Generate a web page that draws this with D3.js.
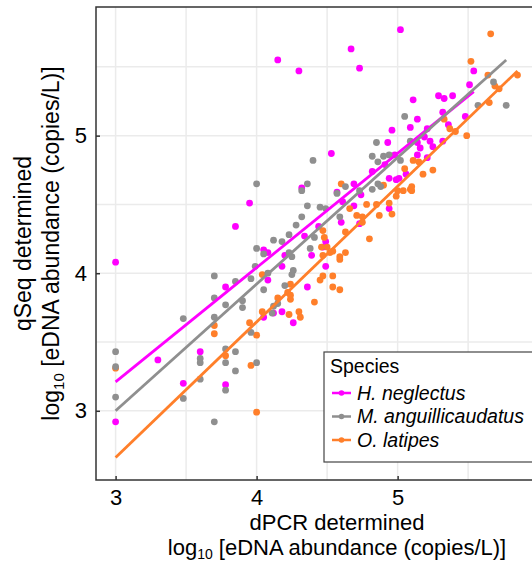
<!DOCTYPE html>
<html>
<head>
<meta charset="utf-8">
<script src="https://cdn.jsdelivr.net/npm/d3@7"></script>
<style>
  body { margin: 0; background: #fff; }
  svg { display: block; font-family: "Liberation Sans", Arial, Helvetica, sans-serif; }
</style>
</head>
<body>
<script>
// species shown in legend, in legend order
const species = ["H. neglectus", "M. anguillicaudatus", "O. latipes"];

// [dPCR log10, qSeq log10]
const hNeglectus = [
  [4.15, 5.55], [4.30, 5.47], [5.02, 5.77], [4.67, 5.63], [4.73, 5.49], [5.54, 5.47],
  [5.51, 5.37], [5.11, 5.26], [5.29, 5.29], [5.33, 5.27], [5.39, 5.29], [5.32, 5.17],
  [5.14, 5.12], [5.48, 5.14], [5.09, 5.06], [5.21, 5.05], [5.36, 5.08], [4.96, 5.04],
  [4.93, 4.95], [5.14, 4.95], [5.19, 4.99], [5.23, 4.96], [5.25, 4.92], [5.32, 4.96],
  [5.16, 4.91], [4.98, 4.86], [4.82, 4.74], [4.91, 4.79], [5.14, 4.86], [5.21, 4.84],
  [5.06, 4.72], [4.94, 4.69], [4.99, 4.68], [5.01, 4.69], [4.53, 4.87], [4.32, 4.62],
  [4.69, 4.65], [4.57, 4.59], [4.74, 4.57], [3.95, 4.51], [3.85, 4.34], [4.61, 4.52],
  [4.69, 4.49], [4.60, 4.37], [4.73, 4.36], [4.94, 4.47], [4.44, 4.34], [4.34, 4.27],
  [4.05, 4.17], [4.08, 4.15], [4.39, 4.13], [4.20, 4.13], [4.49, 4.05], [4.18, 4.05],
  [4.08, 3.95], [3.78, 3.90], [4.36, 3.90], [4.49, 4.23], [4.47, 4.19], [4.18, 3.72],
  [4.05, 3.68], [4.26, 3.64], [4.12, 3.71], [3.00, 4.08], [3.30, 3.37], [3.60, 3.43],
  [3.48, 3.20], [3.78, 3.19], [3.00, 2.92]
];

const mAnguillicaudatus = [
  [5.68, 5.39], [5.57, 5.22], [5.77, 5.22], [5.05, 5.14], [4.85, 4.95], [5.09, 4.96],
  [4.82, 4.85], [4.90, 4.85], [4.94, 4.86], [4.86, 4.81], [5.02, 4.82], [4.86, 4.65],
  [4.88, 4.63], [4.82, 4.61], [4.40, 4.82], [4.00, 4.65], [4.36, 4.65], [4.32, 4.60],
  [4.63, 4.63], [4.57, 4.58], [4.73, 4.60], [4.36, 4.49], [4.45, 4.48], [4.49, 4.47],
  [4.59, 4.41], [4.32, 4.41], [4.28, 4.35], [4.23, 4.28], [4.12, 4.24], [4.18, 4.23],
  [4.41, 4.26], [4.00, 4.18], [4.05, 4.14], [4.23, 4.15], [4.25, 4.12], [4.38, 4.18],
  [3.99, 4.05], [4.26, 4.02], [4.25, 3.99], [4.08, 4.00], [3.85, 3.94], [3.96, 3.96],
  [4.05, 3.88], [4.20, 3.91], [3.70, 3.98], [3.70, 3.82], [3.78, 3.77], [3.90, 3.80],
  [3.90, 3.75], [4.12, 3.76], [4.11, 3.71], [3.70, 3.68], [3.48, 3.67], [4.15, 3.78],
  [3.96, 3.57], [3.00, 3.43], [3.00, 3.32], [3.00, 3.10], [3.60, 3.38], [3.60, 3.35],
  [3.60, 3.23], [3.48, 3.09], [3.78, 3.45], [3.85, 3.43], [3.78, 3.35], [3.85, 3.29],
  [4.00, 3.35], [3.78, 3.15], [3.70, 2.92]
];

const oLatipes = [
  [5.66, 5.74], [5.52, 5.54], [5.64, 5.44], [5.69, 5.36], [5.72, 5.34], [5.85, 5.44],
  [5.65, 5.24], [5.33, 5.12], [5.37, 5.05], [5.41, 5.03], [5.49, 5.00], [5.11, 4.82],
  [5.15, 4.81], [5.05, 4.76], [5.18, 4.72], [5.25, 4.75], [4.90, 4.64], [5.00, 4.60],
  [5.04, 4.60], [5.09, 4.61], [5.10, 4.60], [5.10, 4.63], [4.60, 4.65], [4.66, 4.47],
  [4.71, 4.42], [4.75, 4.41], [4.75, 4.37], [4.87, 4.42], [4.96, 4.43], [4.78, 4.50],
  [4.85, 4.50], [4.94, 4.51], [4.99, 4.56], [4.80, 4.25], [4.47, 4.31], [4.48, 4.26],
  [4.63, 4.30], [4.46, 4.19], [4.50, 4.19], [4.52, 4.15], [4.54, 4.16], [4.63, 4.15],
  [4.47, 4.13], [4.59, 4.12], [4.59, 4.10], [4.04, 3.99], [4.24, 3.92], [4.22, 3.86],
  [4.45, 3.95], [4.47, 3.98], [4.54, 3.98], [4.54, 3.90], [4.59, 3.88], [4.15, 3.82],
  [4.24, 3.81], [4.24, 3.84], [4.41, 3.79], [4.23, 3.70], [4.30, 3.72], [4.31, 3.68],
  [3.95, 3.64], [4.04, 3.72], [4.00, 3.55], [3.70, 3.62], [3.70, 3.56], [3.00, 3.31],
  [3.78, 3.40], [3.96, 3.33], [4.00, 2.99]
];

// regression line end points per species: [x0, y0, x1, y1]
const fitLines = [
  [3.0, 3.21, 5.54, 5.32],
  [3.0, 3.00, 5.77, 5.55],
  [3.0, 2.66, 5.85, 5.47]
];

const xTicks = [3, 4, 5];
const yTicks = [3, 4, 5];
const gridX = [3, 3.5, 4, 4.5, 5, 5.5, 6];
const gridY = [3, 3.5, 4, 4.5, 5, 5.5];

const draw = () => {
  const width = 532;
  const height = 562;
  const colors = ["#ff00ff", "#8f8f8f", "#ff7f2a"];
  const groups = [hNeglectus, mAnguillicaudatus, oLatipes];

  // panel runs past the right edge of the picture (it was cropped)
  const left = 96, right = 576, top = 7, bottom = 480;

  const x = d3.scaleLinear().domain([2.861, 6.265]).range([left, right]);
  const y = d3.scaleLinear().domain([2.497, 5.935]).range([bottom, top]);

  const svg = d3
    .create("svg")
    .attr("width", width)
    .attr("height", height)
    .attr("viewBox", [0, 0, width, height]);

  // grid
  const grid = svg.append("g").attr("stroke", "#ebebeb").attr("stroke-width", 1.5);
  grid.selectAll("line.gx")
    .data(gridX)
    .join("line")
    .attr("x1", (d) => x(d)).attr("x2", (d) => x(d))
    .attr("y1", top).attr("y2", bottom);
  grid.selectAll("line.gy")
    .data(gridY)
    .join("line")
    .attr("class", "gy")
    .attr("x1", left).attr("x2", right)
    .attr("y1", (d) => y(d)).attr("y2", (d) => y(d));

  // points
  const pts = svg.append("g");
  [0, 2, 1].forEach((i) => {
    pts.append("g")
      .attr("fill", colors[i])
      .selectAll("circle")
      .data(groups[i])
      .join("circle")
      .attr("cx", (d) => x(d[0]))
      .attr("cy", (d) => y(d[1]))
      .attr("r", 3.4);
  });

  // regression lines
  svg.append("g")
    .attr("stroke-width", 2.8)
    .selectAll("line")
    .data(fitLines)
    .join("line")
    .attr("stroke", (d, i) => colors[i])
    .attr("x1", (d) => x(d[0]))
    .attr("y1", (d) => y(d[1]))
    .attr("x2", (d) => x(d[2]))
    .attr("y2", (d) => y(d[3]));

  // frame
  svg.append("rect")
    .attr("x", left).attr("y", top)
    .attr("width", right - left).attr("height", bottom - top)
    .attr("fill", "none")
    .attr("stroke", "#333")
    .attr("stroke-width", 1.5);

  // axes: inward ticks, labels outside
  const xAxis = svg.append("g").attr("transform", `translate(0,${bottom})`)
    .call(d3.axisBottom(x).tickValues(xTicks).tickSize(-4).tickPadding(9).tickFormat(d3.format("d")));
  const yAxis = svg.append("g").attr("transform", `translate(${left},0)`)
    .call(d3.axisLeft(y).tickValues(yTicks).tickSize(-4).tickPadding(9).tickFormat(d3.format("d")));
  [xAxis, yAxis].forEach((a) => {
    a.select(".domain").remove();
    a.selectAll(".tick line").attr("stroke", "#333").attr("stroke-width", 1.5);
    a.selectAll(".tick text")
      .attr("font-family", null)
      .attr("font-size", 22)
      .attr("fill", "#000");
  });
  xAxis.selectAll(".tick text").attr("dy", "0.71em");

  // axis titles
  const cx = 337;
  svg.append("text")
    .attr("x", cx).attr("y", 530)
    .attr("text-anchor", "middle")
    .attr("font-size", 22)
    .text("dPCR determined");
  const xl = svg.append("text")
    .attr("x", cx).attr("y", 555)
    .attr("text-anchor", "middle")
    .attr("font-size", 22);
  xl.append("tspan").text("log");
  xl.append("tspan").attr("font-size", 14).attr("dy", 4).text("10");
  xl.append("tspan").attr("dy", -4).text(" [eDNA abundance (copies/L)]");

  const cy = (top + bottom) / 2;
  svg.append("text")
    .attr("transform", `translate(31,${cy}) rotate(-90)`)
    .attr("text-anchor", "middle")
    .attr("font-size", 23)
    .text("qSeq determined");
  const yl = svg.append("text")
    .attr("transform", `translate(59,${cy}) rotate(-90)`)
    .attr("text-anchor", "middle")
    .attr("font-size", 23);
  yl.append("tspan").text("log");
  yl.append("tspan").attr("font-size", 15).attr("dy", 5).text("10");
  yl.append("tspan").attr("dy", -5).text(" [eDNA abundance (copies/L)]");

  // legend
  const lg = svg.append("g").attr("transform", "translate(324,352)");
  lg.append("rect")
    .attr("width", 230).attr("height", 110)
    .attr("fill", "#fff")
    .attr("stroke", "#444")
    .attr("stroke-width", 1.2);
  lg.append("text").attr("x", 6).attr("y", 21).attr("font-size", 19.5).text("Species");
  const item = lg.selectAll("g.item")
    .data(species)
    .join("g")
    .attr("class", "item")
    .attr("transform", (d, i) => `translate(0,${41 + i * 23.5})`);
  item.append("line")
    .attr("x1", 8).attr("x2", 27)
    .attr("stroke", (d, i) => colors[i])
    .attr("stroke-width", 2.5);
  item.append("circle")
    .attr("cx", 17.5).attr("r", 2.8)
    .attr("fill", (d, i) => colors[i]);
  item.append("text")
    .attr("x", 33).attr("y", 6.5)
    .attr("font-size", 19.5)
    .attr("font-style", "italic")
    .text((d) => d);

  d3.select("body").append(() => svg.node());
};

draw();
</script>
</body>
</html>
